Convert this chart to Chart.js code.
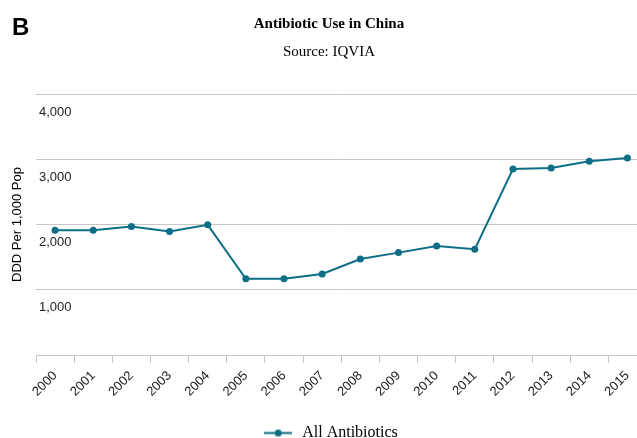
<!DOCTYPE html>
<html>
<head>
<meta charset="utf-8">
<script src="https://cdn.jsdelivr.net/npm/chart.js@4"></script>
<style>
  html, body { margin: 0; padding: 0; background: #fff; overflow: hidden; width: 637px; height: 438px; }
  #wrap { position: relative; width: 650px; height: 438px; }
  #c { position: absolute; left: 0; top: 0; }
  .t { position: absolute; white-space: nowrap; color: #000; }
  #panel { left: 12px; top: 13px; font: bold 24px "Liberation Sans", Arial, sans-serif; }
  #title { left: 0; width: 658px; text-align: center; top: 15px; font: bold 15px "Liberation Serif", "Times New Roman", serif; }
  #sub { left: 0; width: 658px; text-align: center; top: 43px; font: 15px "Liberation Serif", "Times New Roman", serif; }
</style>
</head>
<body>
<div id="wrap">
  <canvas id="c" width="650" height="438" style="width:650px;height:438px"></canvas>
  <div class="t" id="panel">B</div>
  <div class="t" id="title">Antibiotic Use in China</div>
  <div class="t" id="sub">Source: IQVIA</div>
</div>
<script>
const years = ['2000','2001','2002','2003','2004','2005','2006','2007','2008','2009','2010','2011','2012','2013','2014','2015'];
const allAntibiotics = [1912, 1912, 1969, 1892, 1995, 1169, 1169, 1241, 1472, 1569, 1672, 1620, 2851, 2866, 2969, 3020];
const yTicks = [0, 1000, 2000, 3000, 4000];
const seriesName = 'All Antibiotics';
const yTitle = 'DDD Per 1,000 Pop';

const color = '#0d6e86';

// legend symbol: line with a dot
const sym = document.createElement('canvas');
sym.width = 28; sym.height = 9;
(function(){
  const g = sym.getContext('2d');
  g.strokeStyle = color; g.lineWidth = 2;
  g.beginPath(); g.moveTo(0, 4.5); g.lineTo(28, 4.5); g.stroke();
  g.fillStyle = color; g.beginPath(); g.arc(14, 4.5, 3.5, 0, Math.PI * 2); g.fill();
})();

new Chart(document.getElementById('c'), {
  type: 'line',
  data: {
    labels: years,
    datasets: [{
      label: seriesName,
      data: allAntibiotics,
      borderColor: color,
      backgroundColor: color,
      borderWidth: 2,
      pointRadius: 3.5,
      pointHoverRadius: 3.5,
      pointBackgroundColor: color,
      pointBorderWidth: 0,
      tension: 0,
      fill: false
    }]
  },
  options: {
    responsive: false,
    animation: false,
    devicePixelRatio: 1,
    layout: { padding: { left: 10, right: 0, top: 94, bottom: -13 } },
    plugins: {
      title: { display: false },
      tooltip: { enabled: false },
      legend: {
        position: 'bottom',
        labels: {
          usePointStyle: true,
          pointStyleWidth: 32,
          padding: 2,
          color: '#000',
          font: { family: '"Liberation Serif", "Times New Roman", serif', size: 16 },
          generateLabels(chart) {
            return chart.data.datasets.map((ds, i) => ({
              text: ds.label,
              pointStyle: sym,
              fillStyle: color,
              strokeStyle: color,
              lineWidth: 0,
              hidden: false,
              datasetIndex: i,
              fontColor: '#000'
            }));
          }
        }
      }
    },
    scales: {
      x: {
        offset: true,
        grid: { display: true, drawOnChartArea: false, drawTicks: true, tickLength: 8, offset: true, color: '#c6c6c6', lineWidth: 1 },
        border: { display: true, color: '#c6c6c6', width: 1 },
        ticks: {
          color: '#222',
          minRotation: 45, maxRotation: 45,
          padding: 5,
          autoSkip: false,
          font: { family: '"Liberation Sans", Arial, sans-serif', size: 13 }
        },
        afterFit(scale) { scale.height = 68; }
      },
      y: {
        min: 0, max: 4000,
        afterBuildTicks(scale) { scale.ticks = yTicks.map(v => ({ value: v })); },
        grid: { color: '#c6c6c6', lineWidth: 1, drawTicks: false },
        border: { display: false },
        ticks: {
          mirror: true,
          padding: 3,
          labelOffset: 18,
          color: '#222',
          font: { family: '"Liberation Sans", Arial, sans-serif', size: 13 },
          callback(v) { return v === 0 ? '' : v.toLocaleString('en-US'); }
        },
        title: {
          display: true,
          text: yTitle,
          color: '#000',
          padding: { top: 0, bottom: 0 },
          font: { family: '"Liberation Sans", Arial, sans-serif', size: 13 }
        },
        afterFit(scale) { scale.width = 26; }
      }
    }
  }
});
</script>
</body>
</html>
